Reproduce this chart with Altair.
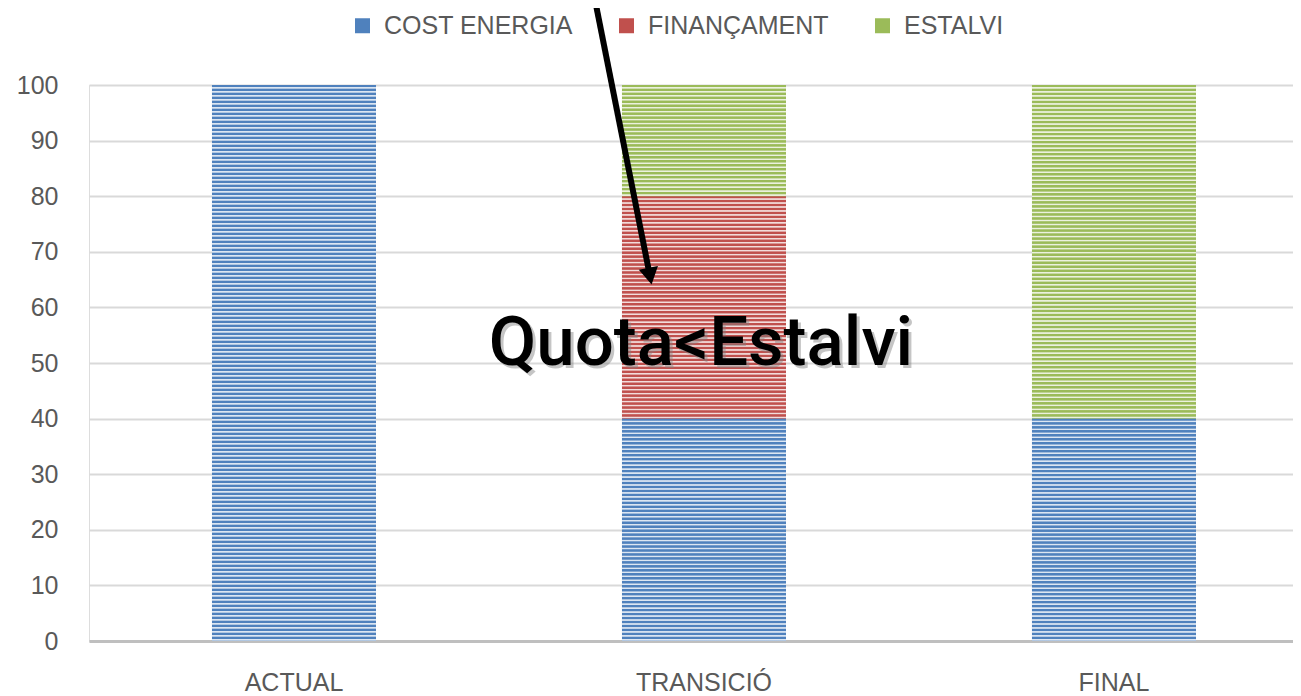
import altair as alt
import pandas as pd

# ---- data ----
categories = ["ACTUAL", "TRANSICIÓ", "FINAL"]
series_names = ["COST ENERGIA", "FINANÇAMENT", "ESTALVI"]
cost_energia = [100, 40, 40]
financament = [0, 40, 0]
estalvi = [0, 20, 60]
y_ticks = [0, 10, 20, 30, 40, 50, 60, 70, 80, 90, 100]

annotation_text = ["Quota<Estalvi"]
annotation_x = [1.5249]   # position in category units (0..3)
annotation_y = [49.6]
arrow_x = [1.2608, 1.3978]
arrow_y = [115.3, 65.6]

fg_colors = ["#4f81bd", "#c0504d", "#9bbb59"]
bg_colors = ["#dce6f2", "#f2dcdb", "#ebf1de"]

# ---- layout constants ----
W, H = 1204, 556
PX_PER_UNIT = H / 100.0
PERIOD = 4.0
FONT = "Liberation Sans"
GREY = "#595959"

# build stacked table
rows = []
for ci, cat in enumerate(categories):
    base = 0
    for si, vals in enumerate([cost_energia, financament, estalvi]):
        v = vals[ci]
        if v > 0:
            rows.append({"cat": cat, "series": series_names[si], "y0": base,
                         "y1": base + v, "value": v, "si": si})
        base += v
df = pd.DataFrame(rows)


def stripes(fg, bg, n):
    stops = []
    for i in range(n):
        f = lambda t: min(1.0, (i + t) / n)
        stops += [{"offset": f(0.0), "color": fg}, {"offset": f(0.42), "color": fg},
                  {"offset": f(0.62), "color": bg}, {"offset": f(0.82), "color": bg},
                  {"offset": f(1.0), "color": fg}]
    return {"gradient": "linear", "x1": 0, "y1": 0, "x2": 0, "y2": 1, "stops": stops}


xband = alt.X("cat:N", sort=categories, title=None,
              scale=alt.Scale(domain=categories, paddingInner=0.6,
                              paddingOuter=0.2683, align=0.559),
              axis=alt.Axis(labelAngle=0, ticks=False, domainColor="#bfbfbf",
                            domainWidth=3, labelPadding=29, labelFontSize=25,
                            labelColor=GREY, labelFont=FONT, grid=False))
yenc = alt.Y("y0:Q", title=None,
             scale=alt.Scale(domain=[0, 100], nice=False, zero=True),
             axis=alt.Axis(values=y_ticks, ticks=False, domain=False,
                           labelPadding=31, labelFontSize=25, labelColor=GREY,
                           labelFont=FONT, gridColor="#d9d9d9", gridWidth=2))

base_bars = alt.Chart(df).mark_bar().encode(
    x=xband,
    y=yenc,
    y2="y1:Q",
    color=alt.Color("series:N",
                    scale=alt.Scale(domain=series_names, range=fg_colors),
                    legend=alt.Legend(title=None, orient="none", direction="horizontal",
                                      legendX=261, legendY=-72, symbolType="square",
                                      symbolSize=225, symbolStrokeWidth=0,
                                      labelFontSize=25, labelColor=GREY, labelFont=FONT,
                                      labelLimit=500, labelOffset=9, columnPadding=41,
                                      padding=0)),
)

stripe_layers = []
for r in rows:
    n = max(1, round(r["value"] * PX_PER_UNIT / PERIOD))
    sub = pd.DataFrame([r])
    stripe_layers.append(
        alt.Chart(sub).mark_bar(fill=stripes(fg_colors[r["si"]], bg_colors[r["si"]], n),
                                strokeWidth=0).encode(
            x=alt.X("cat:N", sort=categories, scale=alt.Scale(domain=categories)),
            y=alt.Y("y0:Q", scale=alt.Scale(domain=[0, 100])),
            y2="y1:Q",
        )
    )

bars_group = alt.layer(base_bars, *stripe_layers)

# ---- annotation ----
ax = alt.Scale(domain=[0, 3], nice=False, zero=False)
ay = alt.Scale(domain=[0, 100], nice=False)

arrow_df = pd.DataFrame({"x": arrow_x, "y": arrow_y, "o": [0, 1]})
arrow_line = alt.Chart(arrow_df).mark_line(color="black", strokeWidth=6).encode(
    x=alt.X("x:Q", scale=ax, axis=None),
    y=alt.Y("y:Q", scale=ay),
    order="o:Q",
)
head_df = pd.DataFrame({"x": arrow_x[1:], "y": arrow_y[1:]})
arrow_head = alt.Chart(head_df).mark_point(
    shape="triangle-down", filled=True, color="black", size=380, angle=349, opacity=1
).encode(
    x=alt.X("x:Q", scale=ax, axis=None),
    y=alt.Y("y:Q", scale=ay),
)

TFONT = "Roboto"
text_df = pd.DataFrame({"x": annotation_x, "y": annotation_y, "t": annotation_text})
text_shadow = alt.Chart(text_df).mark_text(
    font=TFONT, fontSize=69, fontWeight=500, color="#808080", opacity=0.45, dx=3, dy=3,
    align="center", baseline="alphabetic"
).encode(x=alt.X("x:Q", scale=ax, axis=None), y=alt.Y("y:Q", scale=ay), text="t:N")
text_main = alt.Chart(text_df).mark_text(
    font=TFONT, fontSize=69, fontWeight=500, color="black", align="center",
    baseline="alphabetic"
).encode(x=alt.X("x:Q", scale=ax, axis=None), y=alt.Y("y:Q", scale=ay), text="t:N")

annot_group = alt.layer(arrow_line, arrow_head, text_shadow, text_main)

chart = alt.layer(bars_group, annot_group).resolve_scale(x="independent").properties(
    width=W, height=H,
    autosize=alt.AutoSizeParams(type="none"),
    padding={"left": 81, "top": 77, "right": 0, "bottom": 58},
).configure_view(stroke=None).configure(background="white")

chart.save("out.html", embed_options={"renderer": "svg", "actions": False})
